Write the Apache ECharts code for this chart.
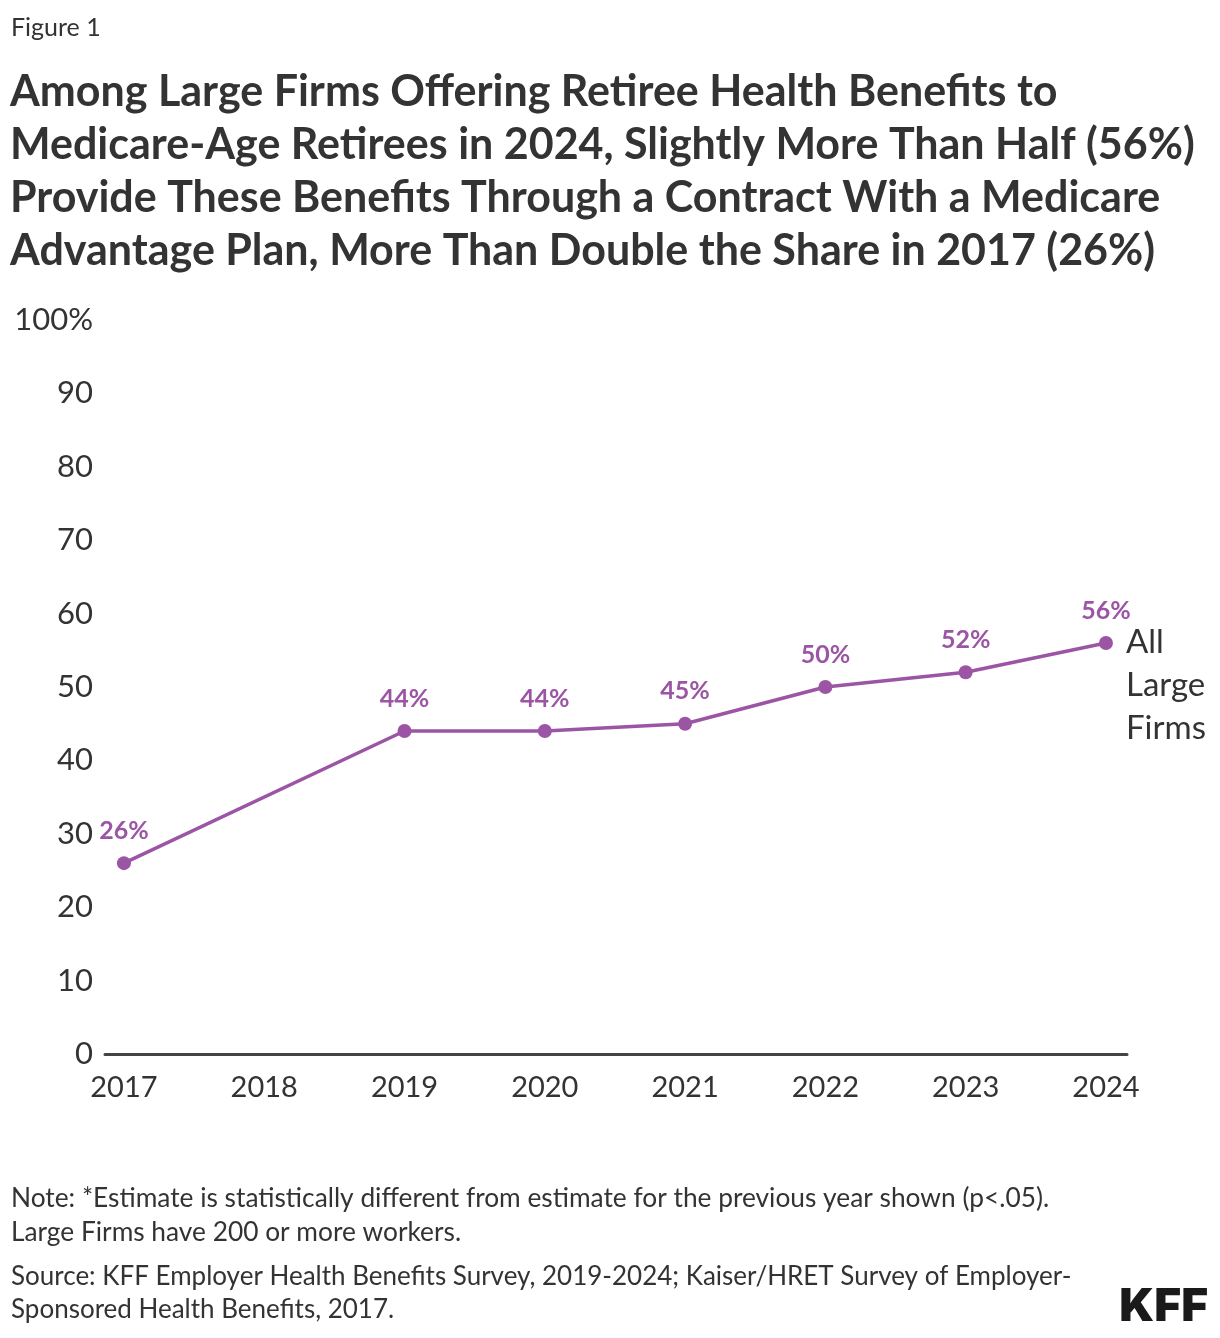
<!DOCTYPE html>
<html>
<head>
<meta charset="utf-8">
<script src="https://cdn.jsdelivr.net/npm/echarts@6/dist/echarts.min.js"></script>
<style>
html,body{margin:0;padding:0;background:#fff;}
#c{width:1220px;height:1338px;}
</style>
</head>
<body>
<div id="c"></div>
<script>
const years = [2017, 2019, 2020, 2021, 2022, 2023, 2024];
const values = [26, 44, 44, 45, 50, 52, 56];
const xTickLabels = [2017, 2018, 2019, 2020, 2021, 2022, 2023, 2024];
const yTicks = [0, 10, 20, 30, 40, 50, 60, 70, 80, 90, 100];
const seriesName = "All\nLarge\nFirms";

const FONT = "Lato";
const PURPLE = "#9b55a4";
const TXT = "#333333";

const chart = echarts.init(document.getElementById('c'), null, {renderer: 'canvas'});
chart.setOption({
  backgroundColor: '#ffffff',
  animation: false,
  textStyle: {fontFamily: FONT},
  title: [
    {text: 'Figure 1', left: 6, top: 10,
     textStyle: {fontFamily: FONT, fontSize: 25, fontWeight: 'normal', color: TXT}},
    {text: 'Among Large Firms Offering Retiree Health Benefits to\nMedicare-Age Retirees in 2024, Slightly More Than Half (56%)\nProvide These Benefits Through a Contract With a Medicare\nAdvantage Plan, More Than Double the Share in 2017 (26%)',
     left: 5, top: 61,
     textStyle: {fontFamily: FONT, fontSize: 43, fontWeight: 'bold', color: TXT, lineHeight: 53}}
  ],
  graphic: [
    {type: 'text', left: 11, top: 1182, style: {
      text: 'Note: *Estimate is statistically different from estimate for the previous year shown (p<.05).\nLarge Firms have 200 or more workers.',
      font: '26.3px ' + FONT, fill: TXT, lineHeight: 34}},
    {type: 'text', left: 11, top: 1260, style: {
      text: 'Source: KFF Employer Health Benefits Survey, 2019-2024; Kaiser/HRET Survey of Employer-\nSponsored Health Benefits, 2017.',
      font: '26px ' + FONT, fill: TXT, lineHeight: 33}},
    {type: 'text', right: 12, top: 1284, style: {
      text: 'KFF', font: '900 46px Inter', fill: '#1a1a1a'}}
  ],
  grid: {left: 105, right: 93, top: 320, bottom: 284, containLabel: false},
  xAxis: {
    type: 'value', min: 2016.865, max: 2024.15,
    axisLine: {show: true, lineStyle: {color: '#444', width: 3}},
    axisTick: {show: false},
    splitLine: {show: false},
    axisLabel: {
      customValues: xTickLabels,
      color: TXT, fontSize: 29, fontFamily: FONT, margin: 19,
      formatter: v => String(v)
    }
  },
  yAxis: {
    type: 'value', min: 0, max: 100, interval: 10,
    axisLine: {show: false}, axisTick: {show: false}, splitLine: {show: false},
    axisLabel: {
      color: TXT, fontSize: 31, fontFamily: FONT, margin: 12,
      formatter: v => v === 100 ? '100%' : String(v)
    }
  },
  series: [{
    type: 'line',
    name: seriesName,
    data: years.map((y, i) => [y, values[i]]),
    symbol: 'circle', symbolSize: 14,
    lineStyle: {color: PURPLE, width: 3.5},
    itemStyle: {color: PURPLE},
    label: {
      show: true, position: 'top', distance: 13,
      color: PURPLE, fontSize: 25, fontWeight: 'bold', fontFamily: FONT,
      formatter: p => p.value[1] + '%'
    },
    endLabel: {
      show: true, formatter: seriesName, color: TXT, fontSize: 33, fontFamily: FONT,
      lineHeight: 43, distance: 20, verticalAlign: 'top', offset: [0, -22]
    }
  }]
});
</script>
</body>
</html>
